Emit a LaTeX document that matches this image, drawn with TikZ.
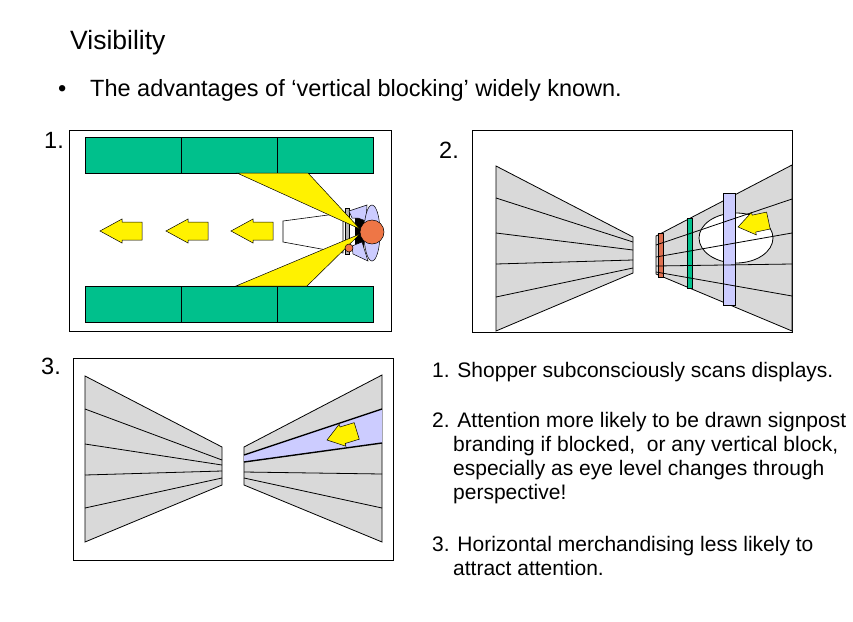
\documentclass[tikz,border=0pt]{standalone}
\usepackage{fontspec}
\setmainfont{Liberation Sans}
\definecolor{shelfgreen}{RGB}{0,192,140}
\definecolor{wallgray}{RGB}{217,217,217}
\definecolor{lavender}{RGB}{204,204,255}
\definecolor{headorange}{RGB}{238,118,70}
\definecolor{bandred}{RGB}{222,112,80}

\tikzstyle{frameS}=[draw=black,line width=0.9pt]
\tikzstyle{shelfS}=[fill=shelfgreen,draw=black,line width=0.9pt]
\tikzstyle{wallS}=[fill=wallgray,draw=black,line width=0.8pt]
\tikzstyle{lineS}=[draw=black,line width=0.8pt]
\tikzstyle{coneS}=[fill=yellow,draw=black,line width=0.5pt]
\tikzstyle{bandS}=[draw=black,line width=0.5pt]
\tikzstyle{titleS}=[anchor=base west,inner sep=0pt,font=\fontsize{26.5}{30}\selectfont]
\tikzstyle{bodyS}=[anchor=base west,inner sep=0pt,font=\fontsize{23.5}{28}\selectfont]
\tikzstyle{numS}=[inner sep=0pt,font=\fontsize{23.5}{28}\selectfont]
\tikzstyle{tS}=[anchor=base west,inner sep=0pt,font=\fontsize{21}{24}\selectfont]
\tikzset{yarrow/.pic={\draw[fill=yellow,line width=0.5pt] (0,0) -- (22,-12) -- (22,-9) -- (42,-9) -- (42,9) -- (22,9) -- (22,12) -- cycle;}}

\begin{document}
\begin{tikzpicture}[x=1pt,y=-1pt]
\useasboundingbox[fill=white] (0,0) rectangle (853,621);
% heading
\draw (70,49) node[titleS] (title) {Visibility};
\draw (58,96) node[bodyS] (bullet) {\textbullet};
\draw (90,96) node[bodyS] (intro) {The advantages of ‘vertical blocking’ widely known.};
\draw (54,140) node[numS] (n1) {1.};
\draw (449,150) node[numS] (n2) {2.};
\draw (51,366) node[numS] (n3) {3.};

% --- 1. top view of the aisle
\draw[frameS] (69,130) rectangle (391,331);
\foreach \xa/\xb in {85/181,181/277,277/373}{
    \draw[shelfS] (\xa,137) rectangle (\xb,173);
    \draw[shelfS] (\xa,286) rectangle (\xb,322);
}
\foreach \xt in {100,166,231}{
    \pic at (\xt,231) {yarrow};
}
\draw[fill=white,line width=0.6pt] (283,221) -- (343,213) -- (343,253) -- (283,242) -- cycle;
\draw[fill=gray!60,line width=0.4pt] (345,208) rectangle (349,254);
\fill (355,217) -- (364,214) -- (364,248) -- (355,244) -- cycle;
\draw[coneS] (237,173) -- (308,173) -- (360,229) -- cycle;
\draw[coneS] (236,286) -- (307,286) -- (360,234) -- cycle;
%shopper
\draw[fill=lavender,line width=0.5pt] (349,211) -- (367,205) -- (366,221) -- (358,218) -- (352,218) -- cycle;
\draw[fill=lavender,line width=0.5pt] (352,246) -- (362,242) -- (368,261) -- (353,254) -- cycle;
\draw[fill=lavender,line width=0.5pt] (372,233) ellipse [x radius=8pt, y radius=28pt];
\draw[fill=headorange,line width=0.5pt] (372,232) circle [radius=12pt];
\draw[fill=headorange,line width=0.5pt] (349,248) circle [radius=4pt];

% --- 2. perspective, vertical blocks
\draw[frameS] (472,130) rectangle (792,332);
\draw[wallS] (496,166) -- (633,237) -- (633,273) -- (496,331) -- cycle;
\draw[lineS] (496,198) -- (633,242)
             (496,233) -- (633,250)
             (496,264) -- (633,260)
             (496,297) -- (633,268);
\draw[wallS] (656,236) -- (792,165) -- (792,331) -- (656,274) -- cycle;
\draw[fill=white,line width=0.8pt] (736,238) ellipse [x radius=37pt, y radius=25pt];
\draw[bandS,fill=bandred] (658,233) rectangle (663,277);
\draw[bandS,fill=shelfgreen] (687,218) rectangle (692,288);
\draw[bandS,fill=lavender] (723,193) rectangle (735,305);
\draw[lineS] (656,245) -- (792,199)
             (656,257) -- (792,233)
             (656,266) -- (792,264)
             (656,272) -- (792,296);
\pic[rotate=12,xscale=0.74,yscale=0.96] at (738,227) {yarrow};

% --- 3. perspective, horizontal blocks
\draw[frameS] (73,358) rectangle (393,560);
\draw[wallS] (85,376) -- (222,447) -- (222,485) -- (85,542) -- cycle;
\draw[lineS] (85,409) -- (222,460)
             (85,444) -- (222,465)
             (85,475) -- (222,471)
             (85,508) -- (222,478);
\draw[wallS] (244,447) -- (382,375) -- (382,542) -- (244,485) -- cycle;
\fill[lavender] (244,455) -- (382,409) -- (382,443) -- (244,462) -- cycle;
\draw[line width=1.4pt] (244,455) -- (382,409)
                        (244,462) -- (382,443);
\draw[lineS] (244,472) -- (382,474)
             (244,478) -- (382,508);
\pic[rotate=17,xscale=0.74,yscale=0.96] at (327,440) {yarrow};

% notes
\draw (432,377) node[tS] (t1) {1. Shopper subconsciously scans displays.};
\draw (432,427) node[tS] (t2a) {2. Attention more likely to be drawn signpost};
\draw (453,451) node[tS] (t2b) {branding if blocked,\ \ or any vertical block,};
\draw (453,475) node[tS] (t2c) {especially as eye level changes through};
\draw (453,499) node[tS] (t2d) {perspective!};
\draw (432,551) node[tS] (t3a) {3. Horizontal merchandising less likely to};
\draw (453,575) node[tS] (t3b) {attract attention.};
\end{tikzpicture}
\end{document}
